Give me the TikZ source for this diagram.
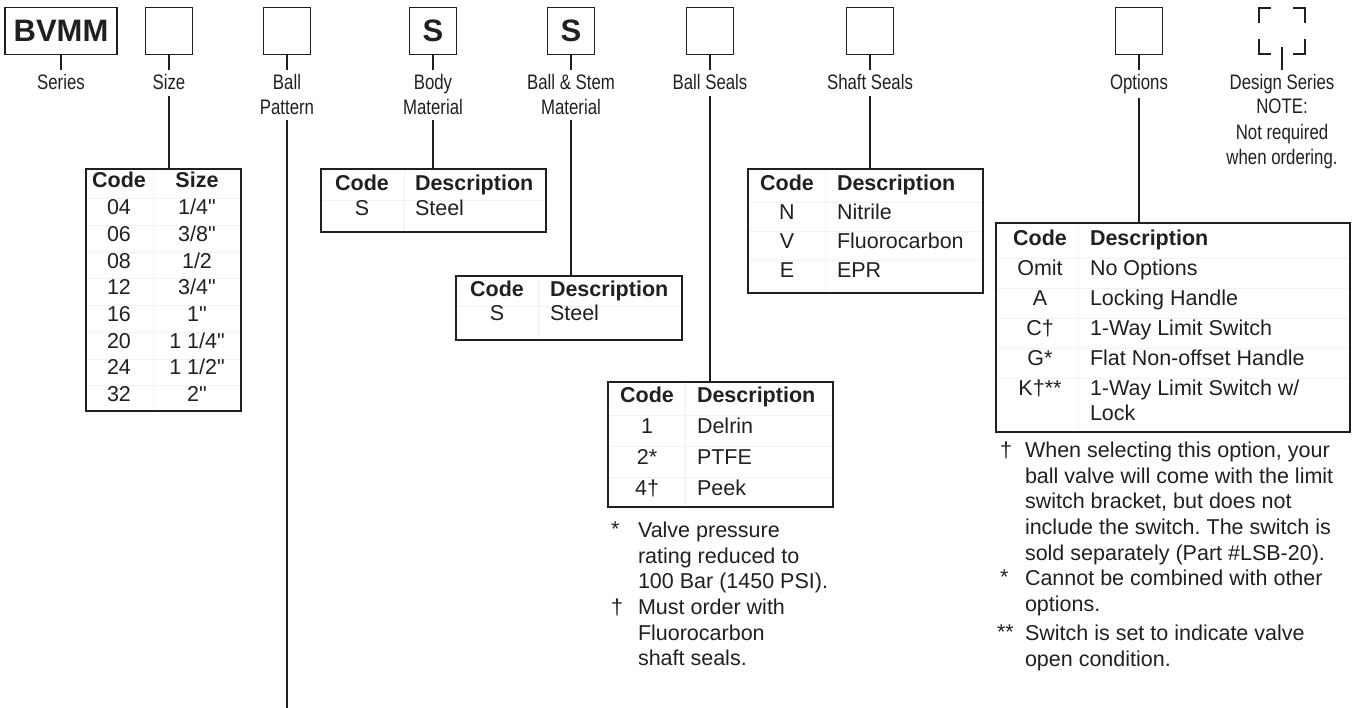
\documentclass[tikz,border=0pt]{standalone}
\usepackage{fontspec}
\setmainfont{Liberation Sans}[Ligatures=TeXOff]
\newfontfamily\condfont{Liberation Sans}[FakeStretch=0.8,Ligatures=TeXOff]
\frenchspacing
\usetikzlibrary{calc}
\definecolor{ink}{HTML}{231F20}
\begin{document}
\begin{tikzpicture}[x=1pt,y=-1pt,
  every node/.style={text=ink, inner sep=0pt, outer sep=0pt},
  codebox/.style={draw=ink, line width=1.5pt, minimum width=47pt, minimum height=47pt, font=\bfseries\fontsize{31}{31}\selectfont},
  lbl/.style={font=\condfont\fontsize{21}{25.5}\selectfont, align=center, anchor=north},
  tick/.style={draw=ink, line width=1.5pt},
  conn/.style={draw=ink, line width=1.5pt},
  corner/.style={draw=ink, line width=2.6pt, line join=miter},
  tbl/.style={draw=ink, line width=1.3pt, anchor=north west, inner sep=0pt},
  cell/.style={draw=black!5, line width=0.5pt},
  tc/.style={font=\fontsize{21.5}{25}\selectfont, anchor=mid},
  tl/.style={font=\fontsize{21.5}{25}\selectfont, anchor=mid west},
  th/.style={font=\bfseries\fontsize{21.5}{25}\selectfont, anchor=mid},
  thl/.style={font=\bfseries\fontsize{21.5}{25}\selectfont, anchor=mid west},
  note/.style={font=\fontsize{21.5}{25.7}\selectfont, anchor=north west, align=left},
  mk/.style={font=\fontsize{21.5}{25}\selectfont, anchor=north west},
]
\useasboundingbox (0,0) rectangle (1354,708);

% ---------- faint cell rules (drawn first) ----------
\draw[cell] (153,170) -- (153,410);
\foreach \y in {198.5,225.4,252,278.7,305.4,332,358.8,385.5} \draw[cell] (87,\y) -- (240,\y);
\draw[cell] (404,170) -- (404,231);  \draw[cell] (322,200.5) -- (545,200.5);
\draw[cell] (538,277) -- (538,339);  \draw[cell] (457,306) -- (681,306);
\draw[cell] (825,170) -- (825,292);
\foreach \y in {202.5,231.5,260.5} \draw[cell] (749,\y) -- (982,\y);
\draw[cell] (685,383) -- (685,506);
\foreach \y in {415.5,446.5,477.5} \draw[cell] (609,\y) -- (832,\y);
\draw[cell] (1078,224) -- (1078,431);
\foreach \y in {258,288,318,348,378} \draw[cell] (997,\y) -- (1349,\y);

% ---------- top row of code boxes ----------
\node[codebox, minimum width=112pt] (bSer) at (61,31) {BVMM};
\node[codebox] (bSize) at (169,31) {};
\node[codebox] (bBall) at (287,31) {};
\node[codebox] (bBody) at (433,31) {S};
\node[codebox] (bBS) at (571,31) {S};
\node[codebox] (bSeal) at (710,31) {};
\node[codebox] (bShaft) at (870,31) {};
\node[codebox] (bOpt) at (1139,31) {};
\node[minimum width=46pt, minimum height=46pt] (bDes) at (1282,31) {};
\draw[corner] ($(bDes.north west)+(0,15)$) -- (bDes.north west) -- ++(12,0);
\draw[corner] ($(bDes.north east)+(-12,0)$) -- (bDes.north east) -- ++(0,15);
\draw[corner] ($(bDes.south west)+(0,-15)$) -- (bDes.south west) -- ++(12,0);
\draw[corner] ($(bDes.south east)+(-12,0)$) -- (bDes.south east) -- ++(0,-15);

% ---------- labels ----------
\node[lbl] (lSer) at (61,74) {Series};
\node[lbl] (lSize) at (169,74) {Size};
\node[lbl] (lBall) at (287,74) {Ball\\Pattern};
\node[lbl] (lBody) at (433,74) {Body\\Material};
\node[lbl] (lBS) at (571,74) {Ball \& Stem\\Material};
\node[lbl] (lSeal) at (710,74) {Ball Seals};
\node[lbl] (lShaft) at (870,74) {Shaft Seals};
\node[lbl] (lOpt) at (1139,74) {Options};
\node[lbl] (lDes) at (1282,74) {Design Series};
\node[lbl] (lNote) at (1282,99) {NOTE:\\Not required\\when ordering.};

% ticks
\foreach \b/\l in {bSer/lSer,bSize/lSize,bBall/lBall,bBody/lBody,bBS/lBS,bSeal/lSeal,bShaft/lShaft,bOpt/lOpt}
  \draw[tick] (\b.south) -- ($(\l.north)+(0,-4)$);
\draw[tick] ($(bDes.south)+(0,-7)$) -- ($(lDes.north)+(0,-4)$);

% ---------- Size ----------
\node[tbl, minimum width=155pt, minimum height=242pt] (tSize) at (86,169) {};
\node[th] (hSize1) at (119,185) {Code};
\node[th] (hSize2) at (197,185) {Size};
\foreach \c/\s [count=\i from 0] in {04/{1/4"},06/{3/8"},08/{1/2},12/{3/4"},16/{1"},20/{1 1/4"},24/{1 1/2"},32/{2"}}{
  \node[tc] (sc\i) at (119,{212+26.7*\i}) {\c};
  \node[tc] (ss\i) at (197,{212+26.7*\i}) {\s};
}
\draw[conn] ($(lSize.south)+(0,7)$) -- (lSize.south |- tSize.north);

% Ball pattern line
\coordinate (ballEnd) at (287,708);
\draw[conn] ($(lBall.south)+(0,5)$) -- (lBall.south |- ballEnd);

% ---------- Body ----------
\node[tbl, minimum width=225pt, minimum height=63pt] (tBody) at (321,169) {};
\node[th] (hBody1) at (362,188) {Code};
\node[thl] (hBody2) at (415,188) {Description};
\node[tc] (bc1) at (362,213) {S};
\node[tl] (bd1) at (415,213) {Steel};
\draw[conn] ($(lBody.south)+(0,5)$) -- (lBody.south |- tBody.north);

% ---------- Ball & Stem ----------
\node[tbl, minimum width=226pt, minimum height=64pt] (tBS) at (456,276) {};
\node[th] (hBS1) at (497,294) {Code};
\node[thl] (hBS2) at (550,294) {Description};
\node[tc] (sc1) at (497,318) {S};
\node[tl] (sd1) at (550,318) {Steel};
\draw[conn] ($(lBS.south)+(0,5)$) -- (lBS.south |- tBS.north);

% ---------- Shaft seals ----------
\node[tbl, minimum width=235pt, minimum height=124pt] (tShaft) at (748,169) {};
\node[th] (hSh1) at (787,188) {Code};
\node[thl] (hSh2) at (837,188) {Description};
\foreach \c/\d [count=\i from 1] in {N/Nitrile,V/Fluorocarbon,E/EPR}{
  \node[tc] (shc\i) at (787,{188+29*\i}) {\c};
  \node[tl] (shd\i) at (837,{188+29*\i}) {\d};
}
\draw[conn] ($(lShaft.south)+(0,7)$) -- (lShaft.south |- tShaft.north);

% ---------- Ball seals ----------
\node[tbl, minimum width=225pt, minimum height=125pt] (tSeal) at (608,382) {};
\node[th] (hSe1) at (647,400) {Code};
\node[thl] (hSe2) at (697,400) {Description};
\foreach \c/\d [count=\i from 1] in {1/Delrin,2*/PTFE,4\dag/Peek}{
  \node[tc] (sec\i) at (647,{400+31*\i}) {\c};
  \node[tl] (sed\i) at (697,{400+31*\i}) {\d};
}
\draw[conn] ($(lSeal.south)+(0,7)$) -- (lSeal.south |- tSeal.north);
\node[mk] (mSe1) at (611,522) {*};
\node[note] (nSe1) at (638,522) {Valve pressure\\rating reduced to\\100 Bar (1450 PSI).};
\node[mk] (mSe2) at (611,599) {\dag};
\node[note] (nSe2) at (638,599) {Must order with\\Fluorocarbon\\shaft seals.};

% ---------- Options ----------
\node[tbl, minimum width=354pt, minimum height=209pt] (tOpt) at (996,223) {};
\node[th] (hOp1) at (1040,243) {Code};
\node[thl] (hOp2) at (1090,243) {Description};
\foreach \c/\d [count=\i from 1] in {Omit/{No Options},A/{Locking Handle},C\dag/{1-Way Limit Switch},G*/{Flat Non-offset Handle},K\dag**/{1-Way Limit Switch w/}}{
  \node[tc] (opc\i) at (1040,{243+30*\i}) {\c};
  \node[tl] (opd\i) at (1090,{243+30*\i}) {\d};
}
\node[tl] (opd6) at (1090,418) {Lock};
\draw[conn] ($(lOpt.south)+(0,4)$) -- (lOpt.south |- tOpt.north);
\node[mk] (mOp1) at (1000,442) {\dag};
\node[note] (nOp1) at (1025,442) {When selecting this option, your\\ball valve will come with the limit\\switch bracket, but does not\\include the switch. The switch is\\sold separately (Part \#LSB-20).};
\node[mk] (mOp2) at (1000,570) {*};
\node[note] (nOp2) at (1025,570) {Cannot be combined with other\\options.};
\node[mk] (mOp3) at (997,625) {**};
\node[note] (nOp3) at (1025,625) {Switch is set to indicate valve\\open condition.};
\end{tikzpicture}
\end{document}
